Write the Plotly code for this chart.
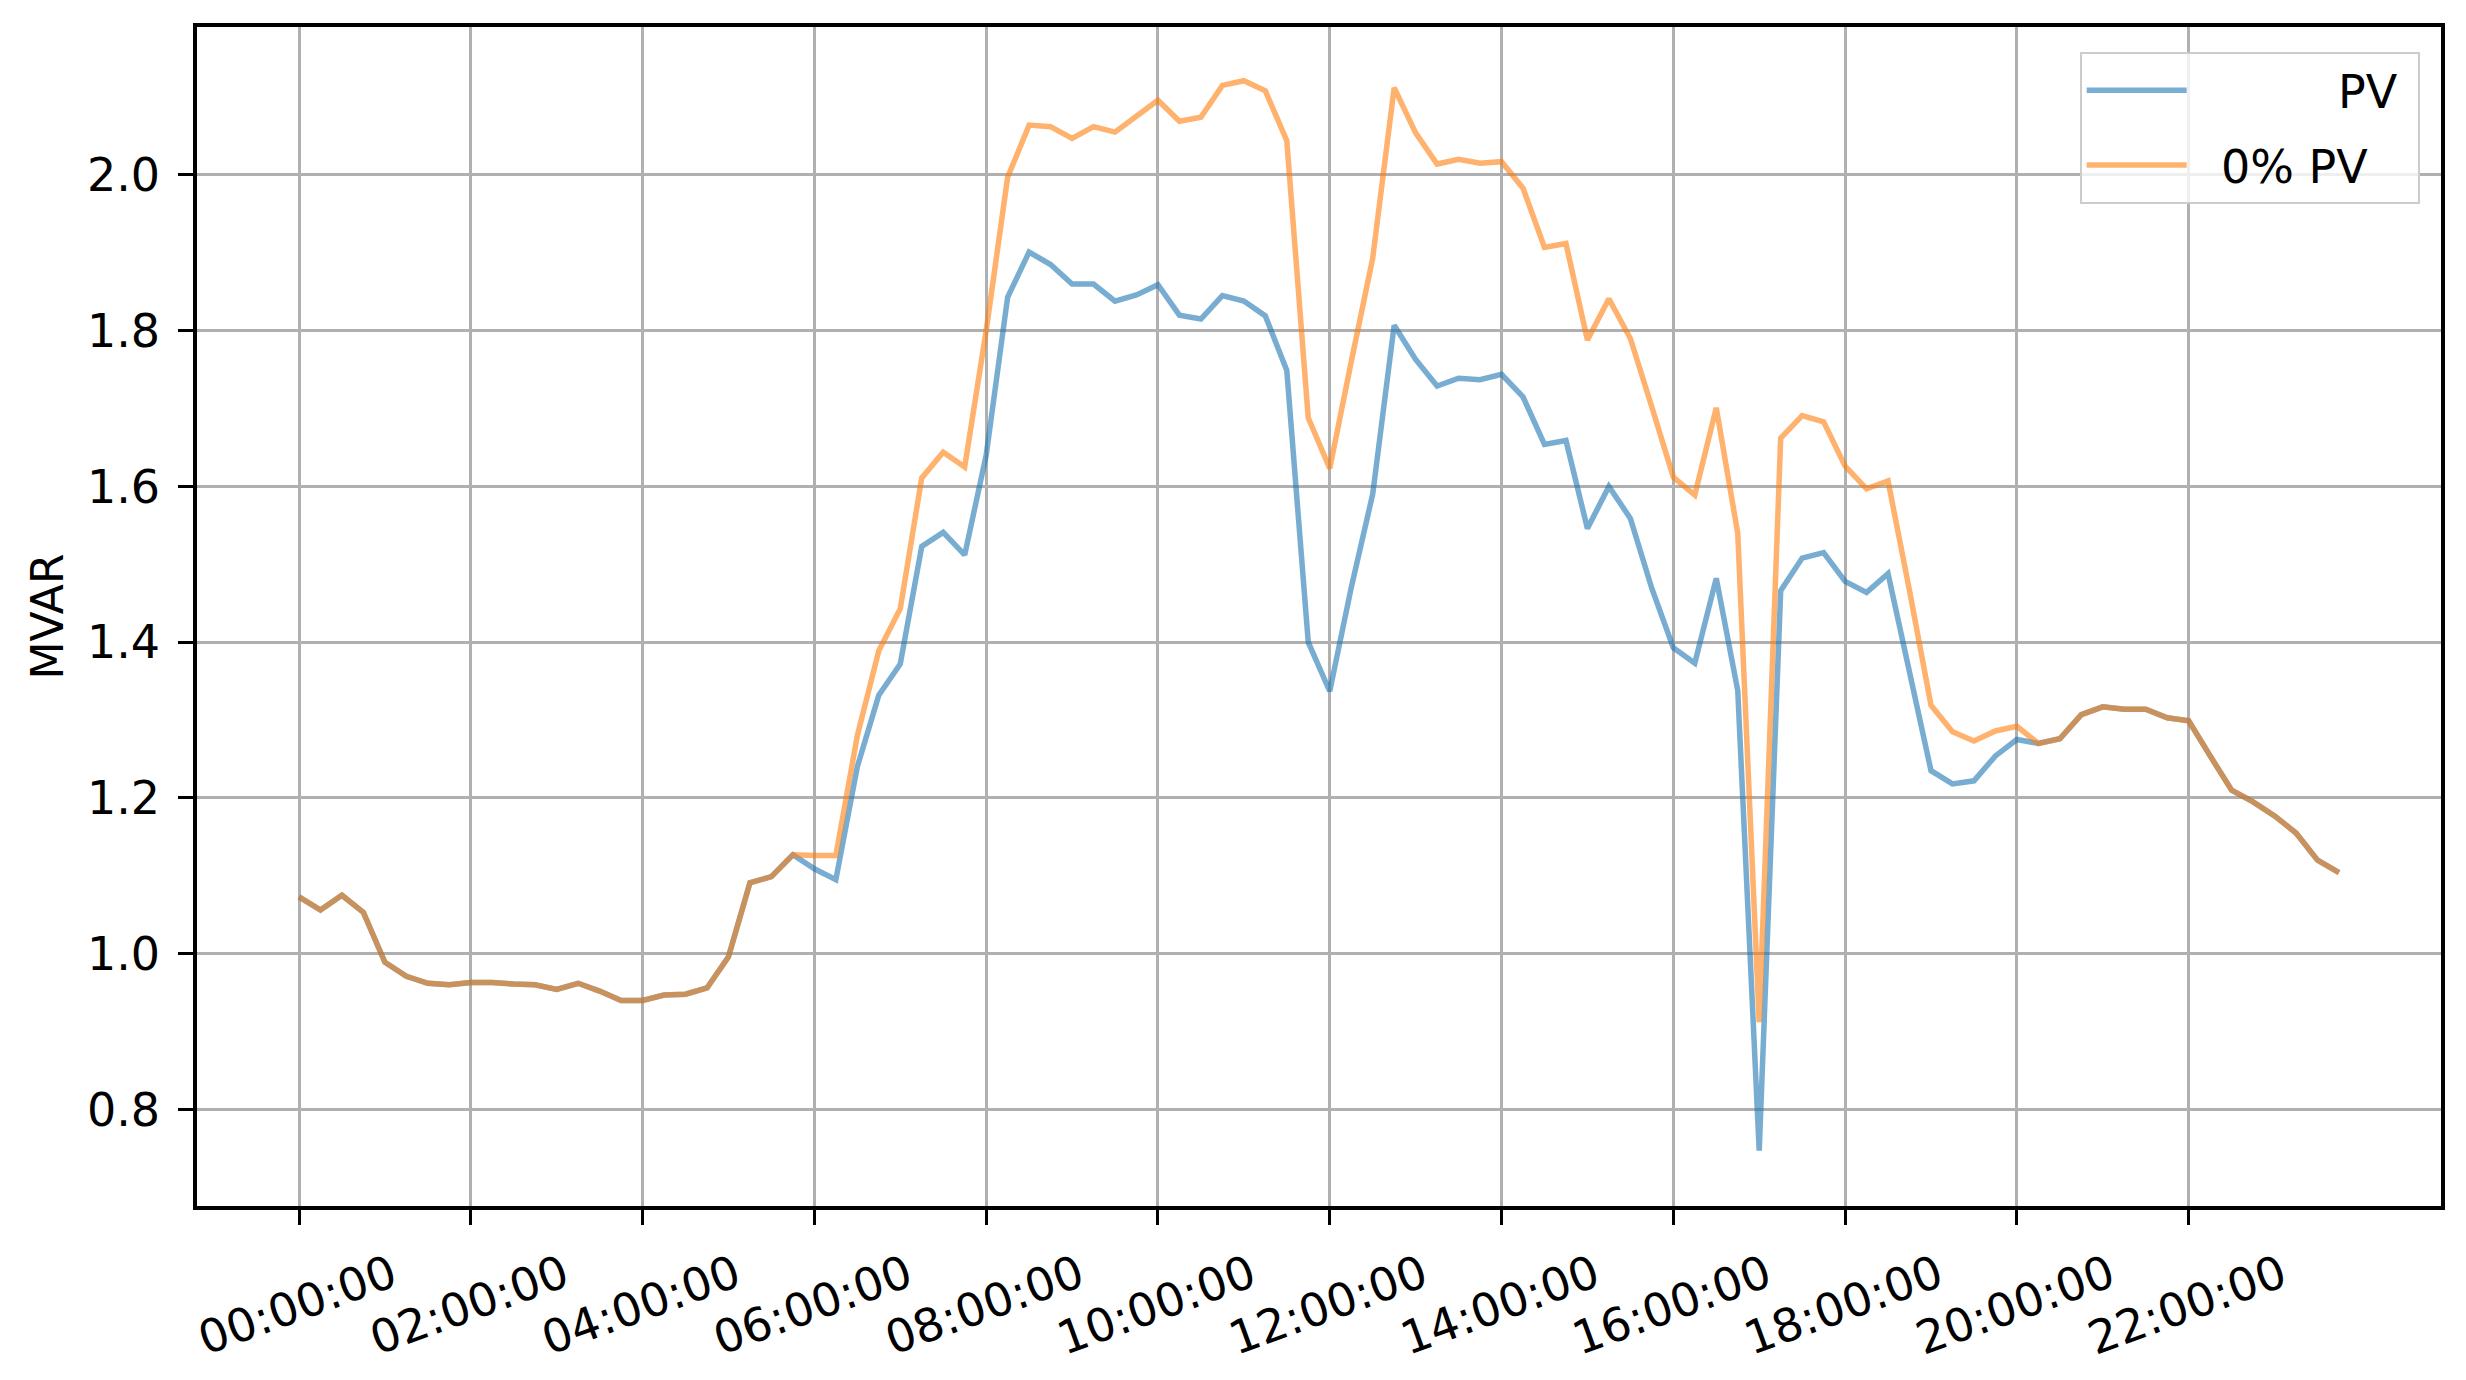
import pandas as pd
import plotly.graph_objects as go

# 15-minute steps over one day
times = pd.date_range("2021-01-01 00:00:00", periods=96, freq="15min")

pv_high = [
    1.073, 1.056, 1.075, 1.053, 0.989, 0.971, 0.962, 0.960,
    0.963, 0.963, 0.961, 0.960, 0.954, 0.962, 0.952, 0.940,
    0.940, 0.947, 0.948, 0.956, 0.996, 1.091, 1.099, 1.127,
    1.109, 1.095, 1.240, 1.332, 1.372, 1.523, 1.541, 1.512,
    1.640, 1.843, 1.901, 1.885, 1.860, 1.860, 1.838, 1.846,
    1.859, 1.820, 1.815, 1.845, 1.838, 1.819, 1.749, 1.400,
    1.337, 1.470, 1.590, 1.807, 1.763, 1.729, 1.739, 1.737,
    1.744, 1.715, 1.654, 1.659, 1.546, 1.600, 1.559, 1.469,
    1.393, 1.373, 1.482, 1.338, 0.747, 1.466, 1.508, 1.515,
    1.478, 1.464, 1.488, 1.363, 1.235, 1.218, 1.222, 1.254,
    1.275, 1.270, 1.276, 1.307, 1.317, 1.314, 1.314, 1.303,
    1.299, 1.254, 1.210, 1.195, 1.177, 1.155, 1.120, 1.104,
]

pv_zero = [
    1.073, 1.056, 1.075, 1.053, 0.989, 0.971, 0.962, 0.960,
    0.963, 0.963, 0.961, 0.960, 0.954, 0.962, 0.952, 0.940,
    0.940, 0.947, 0.948, 0.956, 0.996, 1.091, 1.099, 1.127,
    1.126, 1.126, 1.280, 1.389, 1.443, 1.611, 1.644, 1.625,
    1.800, 1.997, 2.064, 2.062, 2.047, 2.062, 2.055, 2.076,
    2.096, 2.069, 2.074, 2.115, 2.121, 2.108, 2.044, 1.688,
    1.623, 1.760, 1.893, 2.112, 2.054, 2.014, 2.020, 2.015,
    2.017, 1.983, 1.907, 1.912, 1.788, 1.841, 1.790, 1.702,
    1.612, 1.589, 1.701, 1.540, 0.912, 1.662, 1.691, 1.683,
    1.626, 1.597, 1.607, 1.466, 1.319, 1.285, 1.273, 1.286,
    1.292, 1.270, 1.276, 1.307, 1.317, 1.314, 1.314, 1.303,
    1.299, 1.254, 1.210, 1.195, 1.177, 1.155, 1.120, 1.104,
]

x_ticks = pd.date_range("2021-01-01 00:00:00", periods=12, freq="2h")
y_ticks = [0.8, 1.0, 1.2, 1.4, 1.6, 1.8, 2.0]

# first legend label is masked in the source, only "PV" is visible
pad = "\u00a0" * 2
label_high = pad + "\u00a0" * 8 + "PV\u00a0"
label_zero = pad + "0% PV"

font = "DejaVu Sans, Arial, sans-serif"

fig = go.Figure()
fig.add_trace(go.Scatter(
    x=times, y=pv_high, name=label_high, mode="lines", legendgroup="a",
    line=dict(color="#1f77b4", width=5.5), opacity=0.6
))
fig.add_trace(go.Scatter(
    x=times, y=pv_zero, name=label_zero, mode="lines", legendgroup="b",
    line=dict(color="#ff7f0e", width=5.5), opacity=0.6
))

x_start = times[0] - pd.Timedelta(minutes=71.25)
x_end = times[-1] + pd.Timedelta(minutes=71.25)

fig.update_layout(
    width=2466, height=1380,
    margin=dict(l=189, r=33, t=19, b=182),
    paper_bgcolor="white", plot_bgcolor="white",
    font=dict(family=font, size=46, color="black"),
    showlegend=True,
    legend=dict(
        x=0.9905, y=0.979, xanchor="right", yanchor="top",
        bgcolor="rgba(255,255,255,0.8)", bordercolor="#cccccc", borderwidth=2,
        itemwidth=100, font=dict(size=46), traceorder="grouped", tracegroupgap=12
    ),
)

fig.update_xaxes(
    range=[x_start, x_end],
    tickvals=x_ticks, tickformat="%H:%M:%S", tickangle=-20,
    ticklabelshift=93, ticklabelstandoff=6,
    showline=True, mirror=True, linecolor="black", linewidth=3.5,
    ticks="outside", ticklen=15, tickwidth=3, tickcolor="black",
    showgrid=True, gridcolor="#b0b0b0", gridwidth=2.5, zeroline=False,
)

fig.update_yaxes(
    range=[0.676, 2.190],
    tickvals=y_ticks, tickformat=".1f", ticklabelstandoff=9,
    title=dict(text="MVAR", standoff=10, font=dict(size=44)),
    showline=True, mirror=True, linecolor="black", linewidth=3.5,
    ticks="outside", ticklen=15, tickwidth=3, tickcolor="black",
    showgrid=True, gridcolor="#b0b0b0", gridwidth=2.5, zeroline=False,
)

fig.write_html("out.html")
